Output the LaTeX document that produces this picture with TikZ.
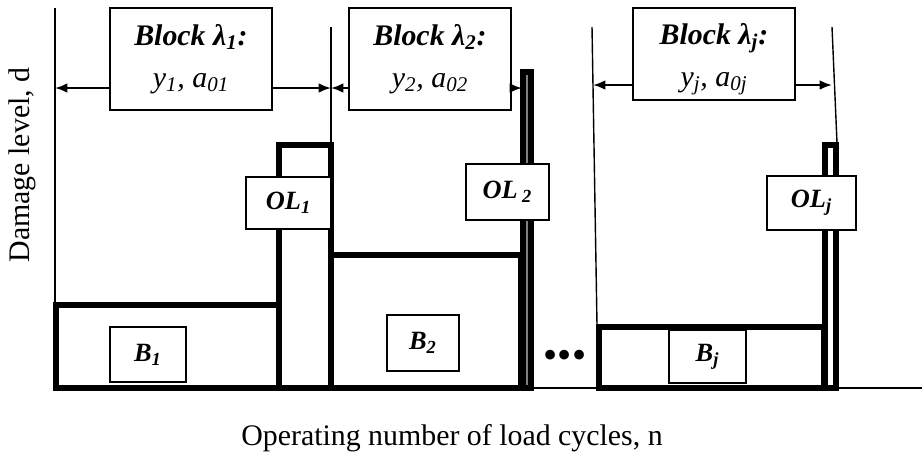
\documentclass[tikz,border=0pt]{standalone}
\usepackage{fontspec}
\setmainfont{Liberation Serif}
\usetikzlibrary{arrows.meta}

\begin{document}
\begin{tikzpicture}[x=0.02cm, y=-0.02cm,
    blockbox/.style={draw, line width=0.8pt, fill=white, inner sep=0pt,
                     minimum width=3.24cm, minimum height=2.04cm, align=center,
                     font=\fontsize{17}{24}\selectfont\itshape},
    olbox/.style={draw, line width=0.8pt, fill=white, inner sep=0pt,
                  font=\fontsize{15}{18}\selectfont\bfseries\itshape},
    thin/.style={line width=0.8pt},
    thickrect/.style={line width=3.3pt},
    arr/.style={-{Latex[length=7pt, width=5.5pt]}, line width=1.2pt}
  ]
  \useasboundingbox (0,0) rectangle (922,458);

  % axes and boundaries
  \draw[thin] (55,8) -- (55,388);
  \draw[thin] (55,388) -- (922,388);
  \draw[thin] (331,27) -- (331,144);
  \draw[thin] (592,27) -- (597,325);
  \draw[thin] (832,27) -- (837,143);

  % load blocks
  \draw[thickrect] (56,305) rectangle (279,388);
  \draw[thickrect] (279,145) rectangle (331,388);
  \draw[thickrect] (331,255) rectangle (521,388);
  \draw[line width=3.3pt, fill=gray] (523,72) rectangle (531,388);
  \draw[thickrect] (599,327) rectangle (824,388);
  \draw[thickrect] (825,145) rectangle (836,388);

  % block labels
  \node[blockbox] (blk1) at (191,59)
    {{\bfseries Block λ\textsubscript{1}:}\\y\textsubscript{1}, a\textsubscript{01}};
  \node[blockbox] (blk2) at (430,59)
    {{\bfseries Block λ\textsubscript{2}:}\\y\textsubscript{2}, a\textsubscript{02}};
  \node[blockbox, minimum height=1.84cm] (blkj) at (714,54)
    {\rule{0pt}{18pt}{\bfseries Block λ\textsubscript{j}:}\\y\textsubscript{j}, a\textsubscript{0j}};

  % overload and block boxes
  \node[olbox, minimum width=1.7cm, minimum height=1.04cm] (ol1) at (288.5,203)
    {OL\textsubscript{1}};
  \node[olbox, minimum width=1.66cm, minimum height=1.12cm] (ol2) at (507.5,192)
    {OL\,\textsubscript{2}};
  \node[olbox, minimum width=1.78cm, minimum height=1.08cm] (olj) at (811.5,203)
    {OL\textsubscript{j}};
  \node[olbox, minimum width=1.52cm, minimum height=1.1cm] (b1) at (148,354.5)
    {B\textsubscript{1}};
  \node[olbox, minimum width=1.44cm, minimum height=1.12cm] (b2) at (423,343)
    {B\textsubscript{2}};
  \node[olbox, minimum width=1.54cm, minimum height=1.06cm] (bj) at (707.5,356.5)
    {B\textsubscript{j}};
  \node[font=\fontsize{23}{26}\selectfont, inner sep=0pt] (dots) at (565,359)
    {\textbullet\textbullet\textbullet};

  % block extents
  \coordinate (s0) at (55,88);
  \coordinate (s1) at (331,88);
  \coordinate (s2) at (522,88);
  \coordinate (sj0) at (593,85);
  \coordinate (sj1) at (832,85);
  \draw[arr] (blk1.west |- s0) -- (s0);
  \draw[arr] (blk1.east |- s1) -- (s1);
  \draw[arr] (blk2.west |- s1) -- (s1);
  \draw[arr] (blk2.east |- s2) -- (s2);
  \draw[arr] (blkj.west |- sj0) -- (sj0);
  \draw[arr] (blkj.east |- sj1) -- (sj1);

  % axis labels
  \node[rotate=90, font=\fontsize{17}{20}\selectfont] (ylab) at (22,165)
    {Damage level, d};
  \node[font=\fontsize{17}{20}\selectfont] (xlab) at (452,438)
    {Operating number of load cycles, n};
\end{tikzpicture}
\end{document}
